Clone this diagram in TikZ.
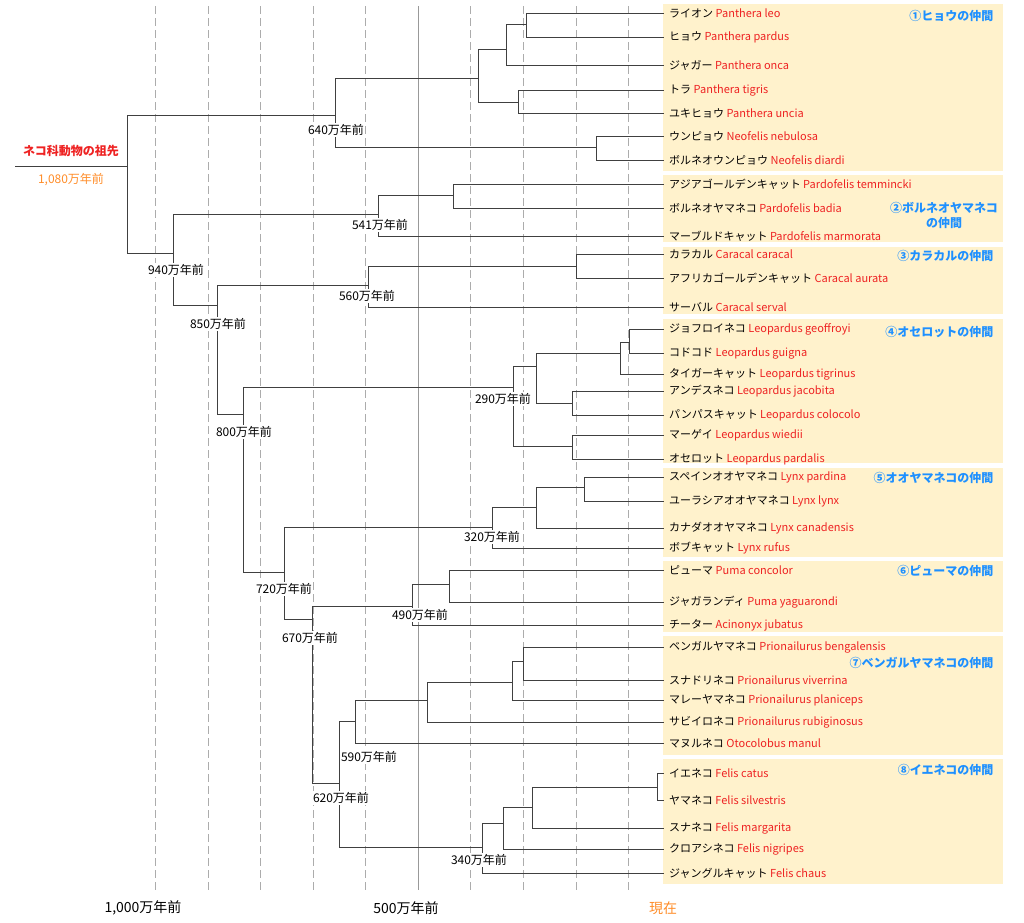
\documentclass[tikz,border=0pt]{standalone}
\usepackage{fontspec}
\setmainfont{Noto Sans CJK JP}
\usetikzlibrary{positioning}
\definecolor{latinred}{RGB}{238,34,34}
\definecolor{ageorange}{RGB}{255,140,40}
\definecolor{groupblue}{RGB}{30,144,255}
\definecolor{groupbg}{RGB}{255,242,204}
\definecolor{branchgray}{RGB}{64,64,64}
\newcommand{\sci}[1]{\textcolor{latinred}{#1}}
\tikzset{%
branch/.style={draw=branchgray, line width=0.8pt},
time grid/.style={draw=gray!65, line width=0.9pt, dash pattern=on 8pt off 4pt},
species/.style={anchor=west, inner xsep=5pt, inner ysep=1pt,
    font=\fontsize{11}{12}\selectfont},
age label/.style={fill=white, inner sep=1pt, font=\fontsize{12}{14}\selectfont},
group box/.style={fill=groupbg, draw=none},
group label/.style={anchor=east, text=groupblue, align=center,
    font=\bfseries\fontsize{12}{15}\selectfont},
axis label/.style={font=\fontsize{14}{16}\selectfont},
}
\begin{document}
\begin{tikzpicture}[x=1pt,y=-1pt]
\useasboundingbox (0,0) rectangle (1024,922);

% time scale
\foreach \x in {155,208,260,313,365,470,523,576,628}
  \draw[time grid] (\x,6) -- (\x,890);
\draw[draw=gray!80, line width=0.9pt] (418,6) -- (418,890);

% groups
\fill[group box] (663,4) rectangle (1003,171);
\fill[group box] (663,175) rectangle (1003,242);
\fill[group box] (663,247) rectangle (1003,314);
\fill[group box] (663,319) rectangle (1003,463);
\fill[group box] (663,468) rectangle (1003,557);
\fill[group box] (663,561) rectangle (1003,632);
\fill[group box] (663,636) rectangle (1003,755);
\fill[group box] (663,759) rectangle (1003,884);

% species
\node[species] (sp-leo) at (664,13) {ライオン \sci{Panthera leo}};
\node[species] (sp-pardus) at (664,37) {ヒョウ \sci{Panthera pardus}};
\node[species] (sp-onca) at (664,65) {ジャガー \sci{Panthera onca}};
\node[species] (sp-tigris) at (664,90) {トラ \sci{Panthera tigris}};
\node[species] (sp-uncia) at (664,113) {ユキヒョウ \sci{Panthera uncia}};
\node[species] (sp-nebulosa) at (664,136) {ウンピョウ \sci{Neofelis nebulosa}};
\node[species] (sp-diardi) at (664,160) {ボルネオウンピョウ \sci{Neofelis diardi}};
\node[species] (sp-temmincki) at (664,184) {アジアゴールデンキャット \sci{Pardofelis temmincki}};
\node[species] (sp-badia) at (664,208) {ボルネオヤマネコ \sci{Pardofelis badia}};
\node[species] (sp-marmorata) at (664,236) {マーブルドキャット \sci{Pardofelis marmorata}};
\node[species] (sp-caracal) at (664,254) {カラカル \sci{Caracal caracal}};
\node[species] (sp-aurata) at (664,278) {アフリカゴールデンキャット \sci{Caracal aurata}};
\node[species] (sp-serval) at (664,307) {サーバル \sci{Caracal serval}};
\node[species] (sp-geoffroyi) at (664,329) {ジョフロイネコ \sci{Leopardus geoffroyi}};
\node[species] (sp-guigna) at (664,353) {コドコド \sci{Leopardus guigna}};
\node[species] (sp-tigrinus) at (664,374) {タイガーキャット \sci{Leopardus tigrinus}};
\node[species] (sp-jacobita) at (664,391) {アンデスネコ \sci{Leopardus jacobita}};
\node[species] (sp-colocolo) at (664,415) {パンパスキャット \sci{Leopardus colocolo}};
\node[species] (sp-wiedii) at (664,435) {マーゲイ \sci{Leopardus wiedii}};
\node[species] (sp-pardalis) at (664,459) {オセロット \sci{Leopardus pardalis}};
\node[species] (sp-pardina) at (664,477) {スペインオオヤマネコ \sci{Lynx pardina}};
\node[species] (sp-lynx) at (664,501) {ユーラシアオオヤマネコ \sci{Lynx lynx}};
\node[species] (sp-canadensis) at (664,528) {カナダオオヤマネコ \sci{Lynx canadensis}};
\node[species] (sp-rufus) at (664,548) {ボブキャット \sci{Lynx rufus}};
\node[species] (sp-concolor) at (664,570) {ピューマ \sci{Puma concolor}};
\node[species] (sp-yaguarondi) at (664,602) {ジャガランディ \sci{Puma yaguarondi}};
\node[species] (sp-jubatus) at (664,625) {チーター \sci{Acinonyx jubatus}};
\node[species] (sp-bengalensis) at (664,647) {ベンガルヤマネコ \sci{Prionailurus bengalensis}};
\node[species] (sp-viverrina) at (664,680) {スナドリネコ \sci{Prionailurus viverrina}};
\node[species] (sp-planiceps) at (664,700) {マレーヤマネコ \sci{Prionailurus planiceps}};
\node[species] (sp-rubiginosus) at (664,722) {サビイロネコ \sci{Prionailurus rubiginosus}};
\node[species] (sp-manul) at (664,743) {マヌルネコ \sci{Otocolobus manul}};
\node[species] (sp-catus) at (664,773) {イエネコ \sci{Felis catus}};
\node[species] (sp-silvestris) at (664,800) {ヤマネコ \sci{Felis silvestris}};
\node[species] (sp-margarita) at (664,828) {スナネコ \sci{Felis margarita}};
\node[species] (sp-nigripes) at (664,849) {クロアシネコ \sci{Felis nigripes}};
\node[species] (sp-chaus) at (664,873) {ジャングルキャット \sci{Felis chaus}};

% branching points
\coordinate (n-stem) at (15,166);
\coordinate (n-root) at (127,166);
\coordinate (n-640) at (335,115);
\coordinate (n-pan1) at (478,78);
\coordinate (n-pan2) at (506,49);
\coordinate (n-pan3) at (526,24);
\coordinate (n-pan4) at (518,102);
\coordinate (n-neo) at (596,147);
\coordinate (n-940) at (173,253);
\coordinate (n-541) at (378,214);
\coordinate (n-pdf) at (453,195);
\coordinate (n-850) at (217,305);
\coordinate (n-560) at (368,285);
\coordinate (n-car) at (576,266);
\coordinate (n-800) at (243,414);
\coordinate (n-290) at (513,387);
\coordinate (n-leo1) at (536,366);
\coordinate (n-leo2) at (620,353);
\coordinate (n-leo3) at (629,342);
\coordinate (n-leo4) at (572,403);
\coordinate (n-leo5) at (572,446);
\coordinate (n-720) at (284,572);
\coordinate (n-320) at (492,527);
\coordinate (n-lyn1) at (536,507);
\coordinate (n-lyn2) at (584,487);
\coordinate (n-670) at (312,619);
\coordinate (n-490) at (412,606);
\coordinate (n-pum) at (449,584);
\coordinate (n-620) at (339,783);
\coordinate (n-590) at (355,721);
\coordinate (n-pri1) at (427,700);
\coordinate (n-pri2) at (512,682);
\coordinate (n-pri3) at (523,661);
\coordinate (n-340) at (482,847);
\coordinate (n-fel1) at (503,823);
\coordinate (n-fel2) at (532,807);
\coordinate (n-fel3) at (657,787);

% tree
\draw[branch] (n-stem) -- (n-root);
\draw[branch] (n-root) |- (n-640) (n-root) |- (n-940);
\draw[branch] (n-640) |- (n-pan1) (n-640) |- (n-neo);
\draw[branch] (n-pan1) |- (n-pan2) (n-pan1) |- (n-pan4);
\draw[branch] (n-pan2) |- (n-pan3) (n-pan2) |- (sp-onca.west);
\draw[branch] (n-pan3) |- (sp-leo.west) (n-pan3) |- (sp-pardus.west);
\draw[branch] (n-pan4) |- (sp-tigris.west) (n-pan4) |- (sp-uncia.west);
\draw[branch] (n-neo) |- (sp-nebulosa.west) (n-neo) |- (sp-diardi.west);
\draw[branch] (n-940) |- (n-541) (n-940) |- (n-850);
\draw[branch] (n-541) |- (n-pdf) (n-541) |- (sp-marmorata.west);
\draw[branch] (n-pdf) |- (sp-temmincki.west) (n-pdf) |- (sp-badia.west);
\draw[branch] (n-850) |- (n-560) (n-850) |- (n-800);
\draw[branch] (n-560) |- (n-car) (n-560) |- (sp-serval.west);
\draw[branch] (n-car) |- (sp-caracal.west) (n-car) |- (sp-aurata.west);
\draw[branch] (n-800) |- (n-290) (n-800) |- (n-720);
\draw[branch] (n-290) |- (n-leo1) (n-290) |- (n-leo5);
\draw[branch] (n-leo1) |- (n-leo2) (n-leo1) |- (n-leo4);
\draw[branch] (n-leo2) |- (n-leo3) (n-leo2) |- (sp-tigrinus.west);
\draw[branch] (n-leo3) |- (sp-geoffroyi.west) (n-leo3) |- (sp-guigna.west);
\draw[branch] (n-leo4) |- (sp-jacobita.west) (n-leo4) |- (sp-colocolo.west);
\draw[branch] (n-leo5) |- (sp-wiedii.west) (n-leo5) |- (sp-pardalis.west);
\draw[branch] (n-720) |- (n-320) (n-720) |- (n-670);
\draw[branch] (n-320) |- (n-lyn1) (n-320) |- (sp-rufus.west);
\draw[branch] (n-lyn1) |- (n-lyn2) (n-lyn1) |- (sp-canadensis.west);
\draw[branch] (n-lyn2) |- (sp-pardina.west) (n-lyn2) |- (sp-lynx.west);
\draw[branch] (n-670) |- (n-490) (n-670) |- (n-620);
\draw[branch] (n-490) |- (n-pum) (n-490) |- (sp-jubatus.west);
\draw[branch] (n-pum) |- (sp-concolor.west) (n-pum) |- (sp-yaguarondi.west);
\draw[branch] (n-620) |- (n-590) (n-620) |- (n-340);
\draw[branch] (n-590) |- (n-pri1) (n-590) |- (sp-manul.west);
\draw[branch] (n-pri1) |- (n-pri2) (n-pri1) |- (sp-rubiginosus.west);
\draw[branch] (n-pri2) |- (n-pri3) (n-pri2) |- (sp-planiceps.west);
\draw[branch] (n-pri3) |- (sp-bengalensis.west) (n-pri3) |- (sp-viverrina.west);
\draw[branch] (n-340) |- (n-fel1) (n-340) |- (sp-chaus.west);
\draw[branch] (n-fel1) |- (n-fel2) (n-fel1) |- (sp-nigripes.west);
\draw[branch] (n-fel2) |- (n-fel3) (n-fel2) |- (sp-margarita.west);
\draw[branch] (n-fel3) |- (sp-catus.west) (n-fel3) |- (sp-silvestris.west);

% ages
\node[age label] (age-640) at (336,130) {640万年前};
\node[age label] (age-940) at (176,270) {940万年前};
\node[age label] (age-541) at (380,225) {541万年前};
\node[age label] (age-850) at (218,324) {850万年前};
\node[age label] (age-560) at (367,296) {560万年前};
\node[age label] (age-800) at (244,432) {800万年前};
\node[age label] (age-290) at (503,399) {290万年前};
\node[age label] (age-720) at (284,589) {720万年前};
\node[age label] (age-320) at (492,537) {320万年前};
\node[age label] (age-670) at (310,638) {670万年前};
\node[age label] (age-490) at (420,615) {490万年前};
\node[age label] (age-620) at (341,798) {620万年前};
\node[age label] (age-590) at (369,757) {590万年前};
\node[age label] (age-340) at (479,860) {340万年前};

\node[text=latinred, font=\bfseries\fontsize{12}{14}\selectfont] (ancestor) at (71,151) {ネコ科動物の祖先};
\node[text=ageorange, font=\fontsize{12}{14}\selectfont] (ancestor-age) at (71,180) {1,080万年前};

\node[group label] (grp-1) at (997,16) {①ヒョウの仲間};
\node[group label, anchor=center] (grp-2) at (944,215) {②ボルネオヤマネコ\\の仲間};
\node[group label] (grp-3) at (997,256) {③カラカルの仲間};
\node[group label] (grp-4) at (997,332) {④オセロットの仲間};
\node[group label] (grp-5) at (997,478) {⑤オオヤマネコの仲間};
\node[group label] (grp-6) at (997,571) {⑥ピューマの仲間};
\node[group label] (grp-7) at (997,663) {⑦ベンガルヤマネコの仲間};
\node[group label] (grp-8) at (997,770) {⑧イエネコの仲間};

\node[axis label] (ax-1000) at (143,908) {1,000万年前};
\node[axis label] (ax-500) at (406,908) {500万年前};
\node[axis label, text=ageorange] (ax-now) at (663,908) {現在};
\end{tikzpicture}
\end{document}
